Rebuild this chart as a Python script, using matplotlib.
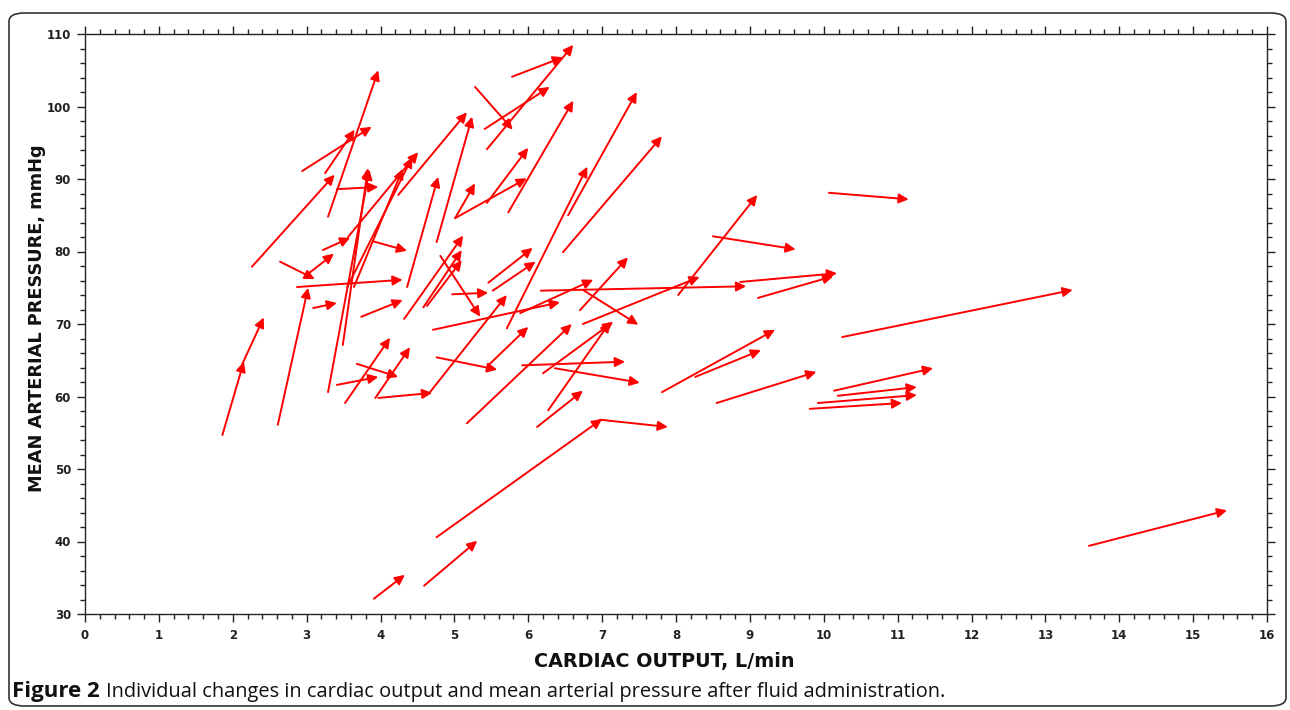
import matplotlib.pyplot as plt
from matplotlib.patches import FancyBboxPatch
from matplotlib.ticker import MultipleLocator

# cardiac output (L/min) and MAP (mmHg) before -> after fluid
co_before = [3.29, 2.94, 3.25, 5.78, 5.44, 5.28, 5.41, 4.24, 4.76, 5.01,
             4.36, 5.44, 5.01, 5.73, 2.26, 3.41, 6.54, 5.71, 6.47, 8.03,
             10.07, 8.50, 6.17, 8.87, 9.11, 6.74, 10.25, 7.81, 8.26, 8.55,
             10.14, 10.19, 9.92, 9.81, 6.97, 4.76, 4.59, 3.91, 13.59, 2.64,
             3.03, 3.22, 3.90, 2.87, 3.09, 3.74, 2.61, 1.86, 2.13, 3.49,
             3.29, 3.55, 3.64, 3.56, 3.52, 3.93, 3.41, 3.68, 3.97, 4.67,
             4.76, 5.17, 5.46, 5.92, 6.20, 6.36, 6.27, 6.12, 4.32, 4.58,
             4.63, 4.81, 4.97, 5.46, 5.52, 4.71, 6.70, 6.74, 5.89]
map_before = [84.8, 91.1, 90.8, 104.1, 94.1, 102.7, 96.9, 87.8, 81.3, 84.6,
              75.1, 86.7, 84.6, 85.4, 77.9, 88.6, 85.0, 69.4, 79.9, 74.0,
              88.1, 82.1, 74.6, 75.8, 73.6, 70.0, 68.2, 60.6, 62.7, 59.1,
              60.8, 60.1, 59.1, 58.3, 56.8, 40.6, 33.9, 32.1, 39.4, 78.6,
              77.0, 80.2, 81.4, 75.1, 72.2, 71.0, 56.1, 54.7, 64.5, 67.1,
              60.6, 75.1, 75.1, 82.0, 59.1, 59.8, 61.6, 64.5, 59.8, 60.6,
              65.4, 56.3, 64.3, 64.3, 63.2, 63.9, 58.1, 55.8, 70.7, 72.3,
              72.5, 79.4, 74.1, 75.7, 74.6, 69.2, 71.9, 74.7, 71.5]
co_after = [3.97, 3.88, 3.65, 6.47, 6.61, 5.79, 6.29, 5.17, 5.24, 5.28,
            4.78, 6.00, 5.98, 6.61, 3.38, 3.97, 7.47, 6.80, 7.81, 9.10,
            11.15, 9.62, 8.95, 10.18, 10.13, 8.32, 13.37, 9.34, 9.15, 9.90,
            11.48, 11.26, 11.26, 11.06, 7.89, 7.00, 5.31, 4.33, 15.46, 3.11,
            3.37, 3.59, 4.36, 4.30, 3.41, 4.30, 3.02, 2.15, 2.42, 3.83,
            3.85, 4.43, 4.30, 4.51, 4.13, 4.40, 3.97, 4.24, 4.70, 5.71,
            5.58, 6.59, 6.00, 7.31, 7.15, 7.51, 7.11, 6.74, 5.12, 5.10,
            5.10, 5.35, 5.46, 6.06, 6.10, 6.43, 7.35, 7.49, 6.88]
map_after = [105.0, 97.2, 96.8, 106.8, 108.5, 96.8, 102.7, 99.2, 98.6, 89.4,
             90.3, 94.3, 90.1, 100.8, 90.6, 88.9, 102.0, 91.7, 95.9, 87.8,
             87.2, 80.3, 75.2, 77.0, 76.6, 76.5, 74.7, 69.2, 66.4, 63.4,
             63.9, 61.3, 60.2, 59.1, 55.8, 56.9, 40.1, 35.4, 44.3, 76.2,
             79.7, 81.9, 80.1, 76.1, 72.9, 73.3, 75.0, 64.8, 70.9, 91.5,
             91.3, 93.0, 91.4, 93.7, 68.1, 66.8, 62.7, 62.7, 60.5, 74.0,
             63.7, 70.0, 69.6, 64.8, 70.3, 61.9, 70.3, 60.8, 82.2, 80.2,
             78.8, 71.0, 74.3, 80.5, 78.6, 73.0, 79.2, 69.9, 76.1]

fig = plt.figure(figsize=(12.9, 7.1), dpi=100)
W, H = 1290, 710
ax = fig.add_axes([85 / W, 1 - 614 / H, (1267 - 85) / W, (614 - 34) / H])
ax.set_xlim(0, 16)
ax.set_ylim(30, 110)

for x0, y0, x1, y1 in zip(co_before, map_before, co_after, map_after):
    ax.annotate('', xy=(x1, y1), xytext=(x0, y0),
                arrowprops=dict(arrowstyle='-|>,head_length=0.45,head_width=0.22',
                                color='#ff0000', lw=1.4, mutation_scale=13,
                                shrinkA=0, shrinkB=0))

ax.xaxis.set_major_locator(MultipleLocator(1))
ax.xaxis.set_minor_locator(MultipleLocator(0.2))
ax.yaxis.set_major_locator(MultipleLocator(10))
ax.yaxis.set_minor_locator(MultipleLocator(2))
ax.tick_params(which='both', direction='out', top=True, right=True,
               colors='#222222', width=1)
ax.tick_params(which='major', length=6, labelsize=8.5, pad=5)
ax.tick_params(axis='y', which='major', pad=4)
ax.tick_params(which='minor', length=3.5)
for lab in ax.get_xticklabels() + ax.get_yticklabels():
    lab.set_fontweight('bold')
for sp in ax.spines.values():
    sp.set_linewidth(1)
    sp.set_color('#222222')

fig.text(664 / W, 1 - 661 / H, 'CARDIAC OUTPUT, L/min', ha='center', va='center',
         fontsize=13.8, fontweight='bold', color='#111111')
fig.text(37 / W, 1 - 318 / H, 'MEAN ARTERIAL PRESSURE, mmHg', ha='center',
         va='center', rotation=90, fontsize=12.8, fontweight='bold', color='#111111')

frame = FancyBboxPatch((9 / W, 4 / H), (1286 - 9) / W, (702 - 9) / H,
                       boxstyle='round,pad=0,rounding_size=0.012',
                       transform=fig.transFigure, fill=False,
                       ec='#333333', lw=1.2)
fig.patches.append(frame)

t1 = fig.text(12 / W, 1 - 692 / H, 'Figure 2', fontsize=16, fontweight='bold',
              family='Open Sans', va='center', color='#111111')
fig.canvas.draw()
bb = t1.get_window_extent()
fig.text(bb.x1 / W + 6 / W, 1 - 692 / H,
         'Individual changes in cardiac output and mean arterial pressure after fluid administration.',
         fontsize=14.4, family='Open Sans', va='center', color='#111111')

fig.savefig('out.png', dpi=100)
